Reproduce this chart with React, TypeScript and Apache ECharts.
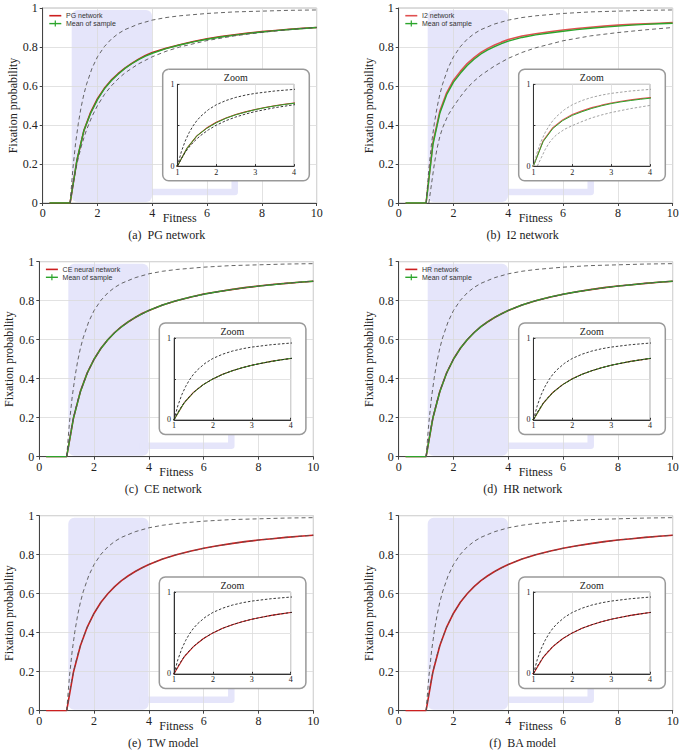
import React, { useEffect, useRef } from 'react';
import * as echarts from 'echarts';

// ---------- data ----------
const SOLID_X = [0.25, 0.5, 0.75, 1, 1.25, 1.5, 1.75, 2, 2.25, 2.5, 2.75, 3, 3.25, 3.5, 3.75, 4, 4.5, 5, 5.5, 6, 6.5, 7, 7.5, 8, 8.5, 9, 9.5, 10];

const PG_NET = [0, 0, 0, 0, 0.22, 0.37, 0.465, 0.535, 0.588, 0.63, 0.663, 0.692, 0.716, 0.738, 0.757, 0.772, 0.794, 0.812, 0.828, 0.842, 0.853, 0.862, 0.871, 0.879, 0.885, 0.891, 0.896, 0.9];
const PG_MEAN = [0, 0, 0, 0, 0.22, 0.37, 0.46, 0.53, 0.585, 0.627, 0.66, 0.69, 0.714, 0.735, 0.753, 0.768, 0.792, 0.81, 0.826, 0.84, 0.851, 0.861, 0.87, 0.877, 0.884, 0.89, 0.895, 0.9];
const I2_NET = [0, 0, 0, 0, 0.31, 0.47, 0.565, 0.63, 0.675, 0.715, 0.745, 0.772, 0.793, 0.81, 0.825, 0.838, 0.856, 0.868, 0.878, 0.887, 0.895, 0.901, 0.907, 0.912, 0.916, 0.919, 0.922, 0.925];
const I2_MEAN = [0, 0, 0, 0, 0.3, 0.46, 0.555, 0.62, 0.665, 0.705, 0.737, 0.764, 0.785, 0.802, 0.817, 0.83, 0.849, 0.862, 0.872, 0.881, 0.889, 0.896, 0.902, 0.907, 0.912, 0.916, 0.919, 0.922];
const CE_NET = [0, 0, 0, 0, 0.2, 0.335, 0.43, 0.5, 0.556, 0.6, 0.637, 0.667, 0.692, 0.714, 0.734, 0.75, 0.778, 0.8, 0.818, 0.834, 0.846, 0.857, 0.867, 0.875, 0.883, 0.889, 0.895, 0.9];
const CE_MEAN = [0, 0, 0, 0, 0.2, 0.333, 0.429, 0.5, 0.555, 0.6, 0.636, 0.666, 0.692, 0.714, 0.733, 0.75, 0.778, 0.8, 0.818, 0.833, 0.846, 0.857, 0.867, 0.875, 0.882, 0.889, 0.895, 0.9];
const HR_NET = [0, 0, 0, 0, 0.2, 0.334, 0.43, 0.501, 0.556, 0.6, 0.637, 0.667, 0.692, 0.714, 0.733, 0.75, 0.778, 0.8, 0.818, 0.833, 0.846, 0.857, 0.867, 0.875, 0.882, 0.889, 0.895, 0.9];
const HR_MEAN = [0, 0, 0, 0, 0.2, 0.333, 0.429, 0.5, 0.556, 0.6, 0.636, 0.667, 0.692, 0.714, 0.733, 0.75, 0.778, 0.8, 0.818, 0.833, 0.846, 0.857, 0.867, 0.875, 0.882, 0.889, 0.895, 0.9];
const TW_MODEL = [0, 0, 0, 0, 0.2, 0.333, 0.429, 0.5, 0.556, 0.6, 0.636, 0.667, 0.692, 0.714, 0.733, 0.75, 0.778, 0.8, 0.818, 0.833, 0.846, 0.857, 0.867, 0.875, 0.882, 0.889, 0.895, 0.9];
const BA_MODEL = [0, 0, 0, 0, 0.2, 0.333, 0.429, 0.5, 0.556, 0.6, 0.636, 0.667, 0.692, 0.714, 0.733, 0.75, 0.778, 0.8, 0.818, 0.833, 0.846, 0.857, 0.867, 0.875, 0.882, 0.889, 0.895, 0.9];

const DASH_X = [1, 1.1, 1.2, 1.3, 1.4, 1.5, 1.6, 1.8, 2, 2.25, 2.5, 2.75, 3, 3.5, 4, 4.5, 5, 6, 7, 8, 9, 10];
const UPPER_BOUND = [0, 0.174, 0.306, 0.408, 0.49, 0.556, 0.609, 0.691, 0.75, 0.802, 0.84, 0.868, 0.889, 0.918, 0.938, 0.951, 0.96, 0.972, 0.98, 0.984, 0.988, 0.99];
const LOWER_BOUND = [0, 0.091, 0.167, 0.231, 0.286, 0.333, 0.375, 0.444, 0.5, 0.556, 0.6, 0.636, 0.667, 0.714, 0.75, 0.778, 0.8, 0.833, 0.857, 0.875, 0.889, 0.9];

const I2_LOW_X = [1.1, 1.2, 1.3, 1.4, 1.5, 1.6, 1.8, 2, 2.25, 2.5, 2.75, 3, 3.5, 4, 4.5, 5, 6, 7, 8, 9, 10];
const I2_LOWER = [0, 0.1, 0.2, 0.28, 0.34, 0.385, 0.45, 0.495, 0.545, 0.59, 0.625, 0.655, 0.703, 0.742, 0.772, 0.796, 0.832, 0.857, 0.874, 0.888, 0.9];

const X_TICKS_MAIN = [0, 2, 4, 6, 8, 10];
const Y_TICKS_MAIN = [0, 0.2, 0.4, 0.6, 0.8, 1];

const CAPTIONS = ['(a)  PG network', '(b)  I2 network', '(c)  CE network', '(d)  HR network', '(e)  TW model', '(f)  BA model'];
const LEGEND_NAMES = ['PG network', 'I2 network', 'CE neural network', 'HR network', null, null];
const MEAN_NAME = 'Mean of sample';

// ---------- layout / style ----------
const LEFTS = [42.7, 398.7, 39.3, 398.7, 39.3, 398.7];
const TOPS = [8, 8, 261.7, 261.7, 515.7, 515.7];
const W = 274;
const H = 195;
const SERIF = 'Liberation Serif';
const SANS = 'Liberation Sans';
const RED = '#cc1f1f';
const GREEN = '#2ca52c';
const SHADE = '#e5e5fa';

const zip = (xs: number[], ys: number[]) => xs.map((x, i) => [x, ys[i]]);

type Panel = { net: number[]; mean: number[] | null; lowX: number[]; low: number[]; redColor: string; dashColor: string; insetDash: string };
const PANELS: Panel[] = [
  { net: PG_NET, mean: PG_MEAN, lowX: DASH_X, low: LOWER_BOUND, redColor: RED, dashColor: '#555', insetDash: '#222' },
  { net: I2_NET, mean: I2_MEAN, lowX: I2_LOW_X, low: I2_LOWER, redColor: '#e05050', dashColor: '#555', insetDash: '#999' },
  { net: CE_NET, mean: CE_MEAN, lowX: DASH_X, low: LOWER_BOUND, redColor: RED, dashColor: '#555', insetDash: '#222' },
  { net: HR_NET, mean: HR_MEAN, lowX: DASH_X, low: LOWER_BOUND, redColor: RED, dashColor: '#555', insetDash: '#222' },
  { net: TW_MODEL, mean: null, lowX: DASH_X, low: LOWER_BOUND, redColor: RED, dashColor: '#555', insetDash: '#222' },
  { net: BA_MODEL, mean: null, lowX: DASH_X, low: LOWER_BOUND, redColor: RED, dashColor: '#555', insetDash: '#222' },
];

function buildOption() {
  const grid: any[] = [];
  const xAxis: any[] = [];
  const yAxis: any[] = [];
  const series: any[] = [];
  const graphic: any[] = [];

  PANELS.forEach((p, i) => {
    const L = LEFTS[i];
    const T = TOPS[i];
    const mainIdx = 2 * i;
    const insetIdx = 2 * i + 1;

    grid.push({ left: L, top: T, width: W, height: H, show: true, borderColor: '#aaa', borderWidth: 0.8, backgroundColor: 'transparent', z: 1 });
    xAxis.push({
      type: 'value', gridIndex: mainIdx, min: X_TICKS_MAIN[0], max: X_TICKS_MAIN[X_TICKS_MAIN.length - 1], interval: 2, z: 1,
      name: 'Fitness', nameLocation: 'middle', nameGap: 9, nameMoveOverlap: false,
      nameTextStyle: { fontFamily: SERIF, fontSize: 12, color: '#222' },
      axisLine: { show: true, onZero: false, lineStyle: { color: '#444', width: 1 } },
      axisTick: { show: true, length: 3, lineStyle: { color: '#444' } },
      axisLabel: { margin: 4, fontFamily: SERIF, fontSize: 12, color: '#222' },
      splitLine: { show: true, lineStyle: { color: '#dadada', width: 0.8 } },
    });
    yAxis.push({
      type: 'value', gridIndex: mainIdx, min: Y_TICKS_MAIN[0], max: Y_TICKS_MAIN[Y_TICKS_MAIN.length - 1], interval: 0.2, z: 1,
      name: 'Fixation probability', nameLocation: 'middle', nameGap: 24, nameMoveOverlap: false,
      nameTextStyle: { fontFamily: SERIF, fontSize: 12, color: '#222' },
      axisLine: { show: true, onZero: false, lineStyle: { color: '#444', width: 1 } },
      axisTick: { show: true, length: 3, lineStyle: { color: '#444' } },
      axisLabel: { margin: 5, fontFamily: SERIF, fontSize: 12, color: '#222' },
      splitLine: { show: true, lineStyle: { color: '#dadada', width: 0.8 } },
    });

    const bl = L + 120;
    const bt = T + 61.3;
    const bw = 146.6;
    const bh = 111.4;
    const il = bl + 14.7;
    const it = bt + 15;
    const iw = 116.7;
    const ih = 81.8;

    grid.push({ left: il, top: it, width: iw, height: ih, show: true, borderColor: '#777', borderWidth: 0.8, backgroundColor: 'transparent', z: 6 });
    xAxis.push({
      type: 'value', gridIndex: insetIdx, min: 1, max: 4, interval: 1, z: 6,
      axisLine: { show: true, onZero: false, lineStyle: { color: '#333', width: 1 } },
      axisTick: { show: true, inside: true, length: 2, lineStyle: { color: '#333' } },
      axisLabel: { margin: 2, fontFamily: SERIF, fontSize: 8, color: '#222' },
      splitLine: { show: true, lineStyle: { color: '#dcdcdc', width: 0.8 } },
    });
    yAxis.push({
      type: 'value', gridIndex: insetIdx, min: 0, max: 1, interval: 0.5, z: 6,
      axisLine: { show: true, onZero: false, lineStyle: { color: '#333', width: 1 } },
      axisTick: { show: true, inside: true, length: 2, lineStyle: { color: '#333' } },
      axisLabel: { margin: 3, fontFamily: SERIF, fontSize: 8, color: '#222', formatter: (v: number) => (v === 0.5 ? '' : String(v)) },
      splitLine: { show: true, lineStyle: { color: '#dcdcdc', width: 0.8 } },
    });

    [mainIdx, insetIdx].forEach((gi, k) => {
      const z = k === 0 ? 3 : 7;
      const base = { type: 'line', xAxisIndex: gi, yAxisIndex: gi, showSymbol: false, symbol: 'none', silent: true, clip: true, z };
      series.push({ ...base, name: LEGEND_NAMES[i] || 'network', data: zip(SOLID_X, p.net), lineStyle: { color: p.redColor, width: k === 0 ? 1.6 : 1.1 } });
      if (p.mean) {
        series.push({ ...base, name: MEAN_NAME, data: zip(SOLID_X, p.mean), lineStyle: { color: GREEN, width: k === 0 ? 1.4 : 1 } });
      }
      const dcol = k === 0 ? p.dashColor : p.insetDash;
      series.push({ ...base, name: 'lower', data: zip(p.lowX, p.low), lineStyle: { color: dcol, width: 0.9, type: k === 0 ? [4, 3] : [2.5, 1.8] } });
      series.push({ ...base, name: 'upper', data: zip(DASH_X, UPPER_BOUND), lineStyle: { color: dcol, width: 0.9, type: k === 0 ? [4, 3] : [2.5, 1.8] } });
    });

    graphic.push({
      type: 'rect', z: 0, silent: true,
      shape: { x: L + 29, y: T + 2, width: 80.3, height: H - 3, r: 6 },
      style: { fill: SHADE },
    });
    graphic.push({
      type: 'polyline', z: 0, silent: true,
      shape: { points: [[L + 100, T + H - 11], [L + 192, T + H - 11], [L + 192, T + H - 30]] },
      style: { stroke: SHADE, lineWidth: 6.5, lineJoin: 'round', fill: null },
    });
    graphic.push({
      type: 'rect', z: 5, silent: true,
      shape: { x: bl, y: bt, width: bw, height: bh, r: 6 },
      style: { fill: '#fff', stroke: '#999', lineWidth: 1.5 },
    });
    graphic.push({
      type: 'text', z: 6, silent: true, x: il + iw / 2, y: bt + 8,
      style: { text: 'Zoom', fontFamily: SERIF, fontSize: 10, fill: '#222', align: 'center', verticalAlign: 'middle' },
    });
    graphic.push({
      type: 'text', z: 6, silent: true, x: L + 124, y: T + H + 32.3,
      style: { text: CAPTIONS[i], fontFamily: SERIF, fontSize: 12, fill: '#222', align: 'center', verticalAlign: 'middle' },
    });
    const lname = LEGEND_NAMES[i];
    if (lname) {
      const y1 = T + 7.7;
      const y2 = T + 15.6;
      graphic.push({ type: 'line', z: 8, silent: true, shape: { x1: L + 6.6, y1, x2: L + 18.6, y2: y1 }, style: { stroke: p.redColor, lineWidth: 1.6 } });
      graphic.push({ type: 'text', z: 8, silent: true, x: L + 23.3, y: y1, style: { text: lname, fontFamily: SANS, fontSize: 7, fill: '#333', align: 'left', verticalAlign: 'middle' } });
      graphic.push({ type: 'line', z: 8, silent: true, shape: { x1: L + 6.6, y1: y2, x2: L + 18.6, y2 }, style: { stroke: GREEN, lineWidth: 1.4 } });
      graphic.push({ type: 'line', z: 8, silent: true, shape: { x1: L + 12.6, y1: y2 - 3, x2: L + 12.6, y2: y2 + 3 }, style: { stroke: GREEN, lineWidth: 1.2 } });
      graphic.push({ type: 'text', z: 8, silent: true, x: L + 23.3, y: y2, style: { text: MEAN_NAME, fontFamily: SANS, fontSize: 7, fill: '#333', align: 'left', verticalAlign: 'middle' } });
    }
  });

  return { animation: false, backgroundColor: '#fff', textStyle: { fontFamily: SERIF }, grid, xAxis, yAxis, series, graphic };
}

export default function App() {
  const ref = useRef<HTMLDivElement>(null);
  useEffect(() => {
    if (!ref.current) return;
    const chart = echarts.init(ref.current, undefined, { renderer: 'svg' });
    chart.setOption(buildOption() as any);
    return () => chart.dispose();
  }, []);
  return <div ref={ref} style={{ position: 'absolute', left: 0, top: 0, width: 685, height: 752 }} />;
}
